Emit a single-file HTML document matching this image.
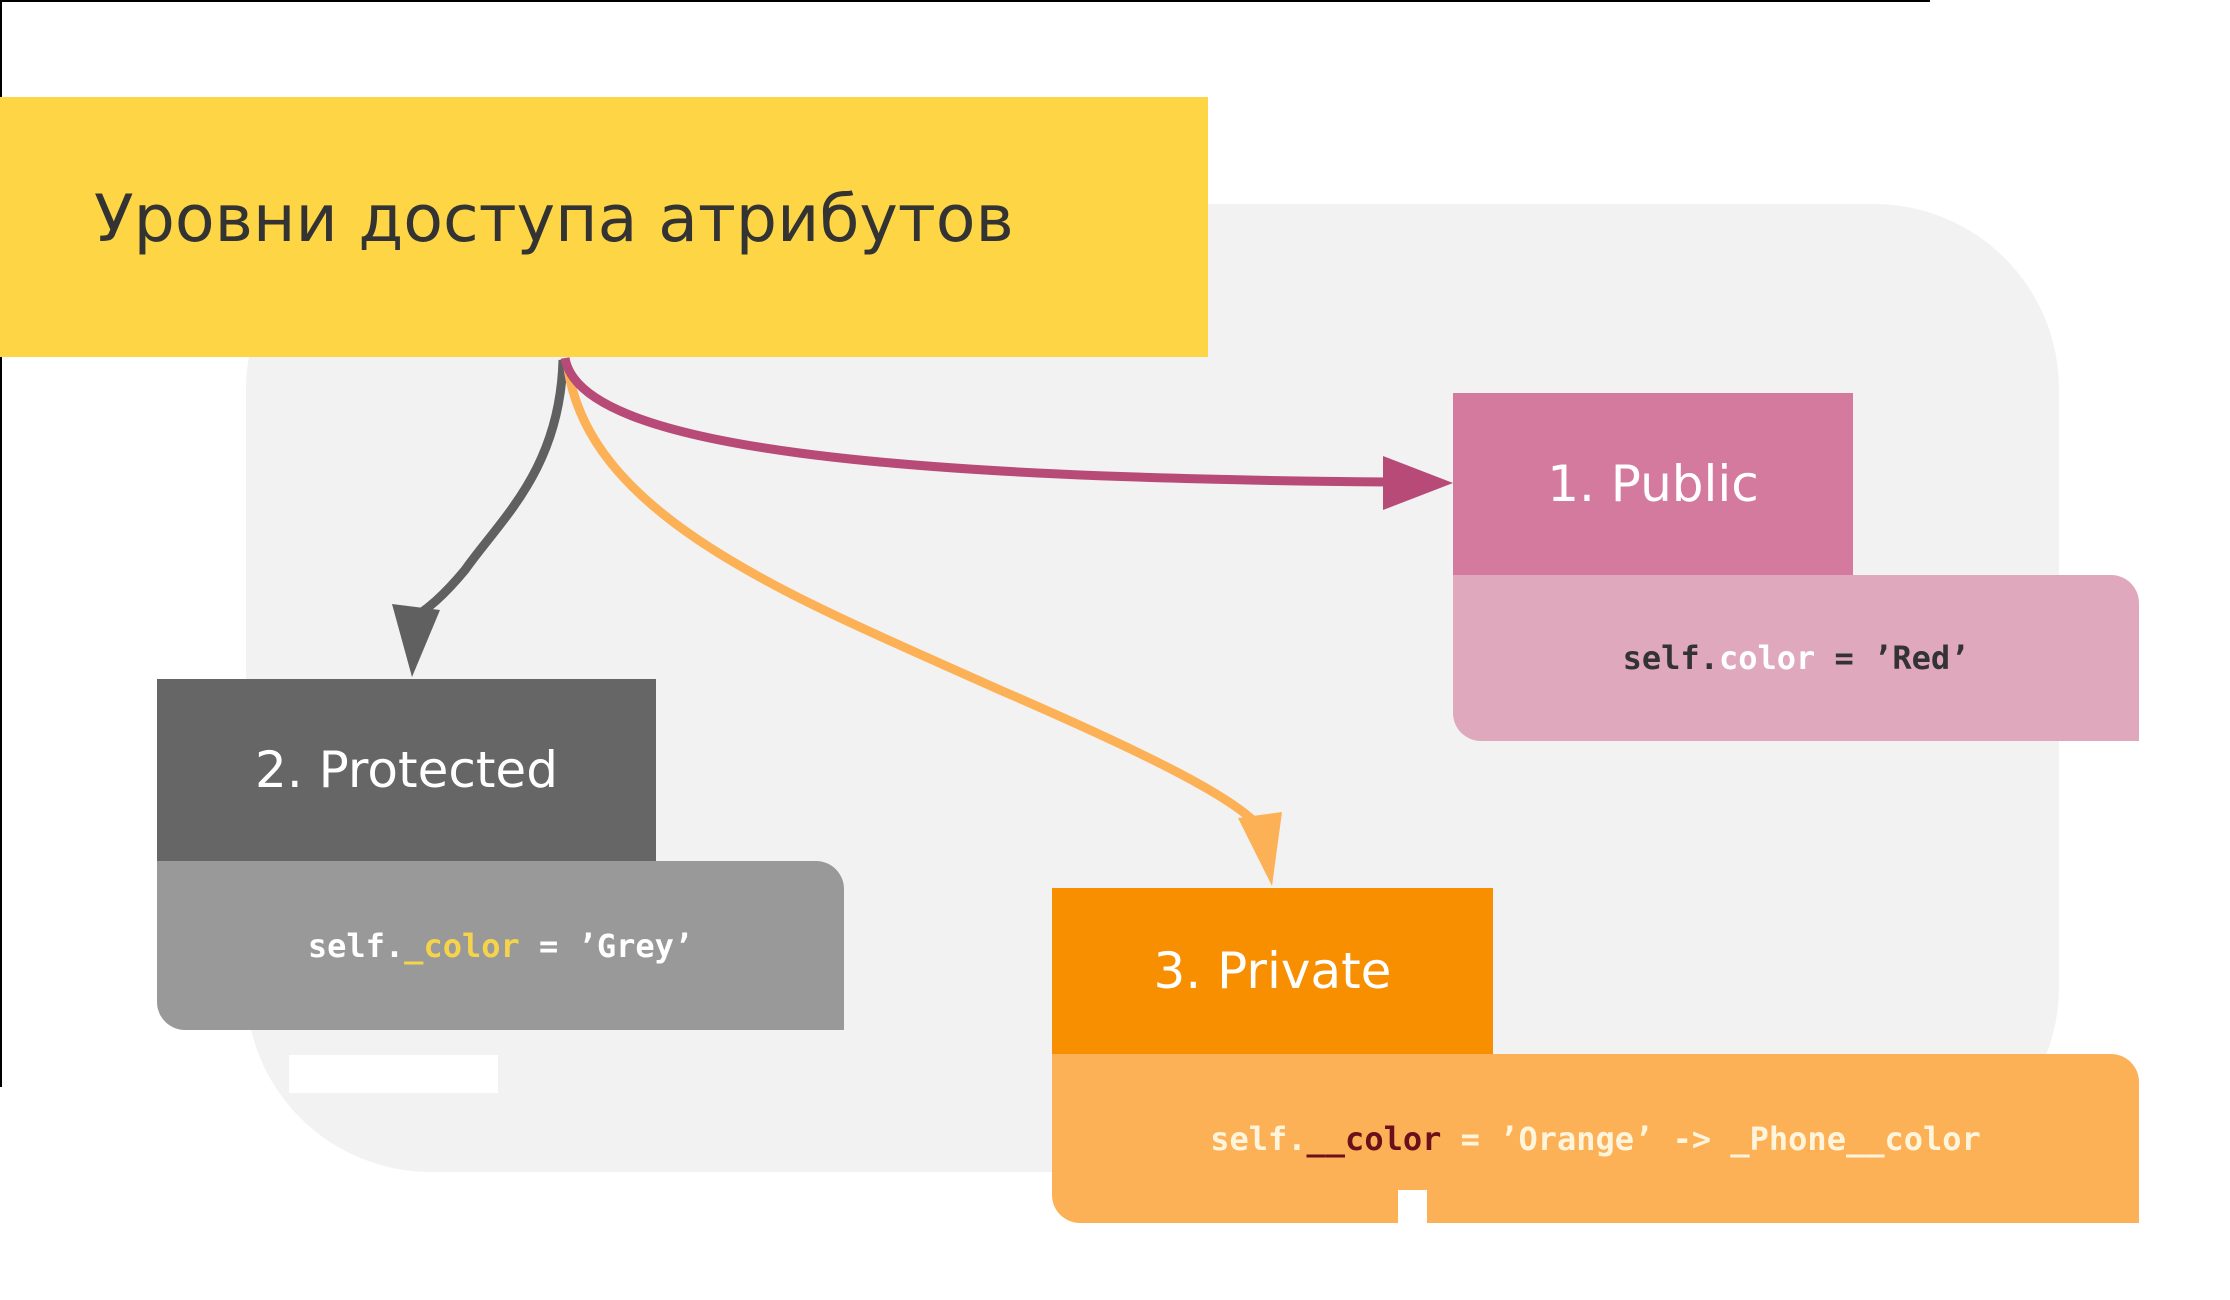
<!DOCTYPE html>
<html><head><meta charset="utf-8"><style>
body{margin:0;width:2230px;height:1300px;background:#fff;overflow:hidden;position:relative;font-family:"Liberation Sans","DejaVu Sans",sans-serif}
div{position:absolute;box-sizing:border-box}
.h{color:#fff;font-size:50px;display:flex;align-items:center;justify-content:center;font-family:"DejaVu Sans","Liberation Sans",sans-serif}
.c{font-family:"DejaVu Sans Mono","Liberation Mono",monospace;font-weight:bold;font-size:32px;display:flex;align-items:center;justify-content:center;white-space:pre}
</style></head><body>
<div style="left:0;top:0;width:1930px;height:2px;background:#000"></div>
<div style="left:0;top:0;width:2px;height:1087px;background:#000"></div>
<div style="left:246px;top:204px;width:1813px;height:968px;background:#f2f2f2;border-radius:185px"></div>
<div style="left:0;top:97px;width:1208px;height:260px;background:#fdd545"></div>
<div style="left:94px;top:182px;font-size:65px;color:#333;font-family:'DejaVu Sans','Liberation Sans',sans-serif;white-space:nowrap">Уровни доступа атрибутов</div>

<div style="left:1453px;top:575px;width:686px;height:166px;background:#e0a8bc;border-radius:0 28px 0 28px"></div>
<div class="h" style="left:1453px;top:393px;width:400px;height:182px;background:#d47a9e">1. Public</div>
<div class="c" style="left:1453px;top:575px;width:686px;height:166px;color:#333">self.<span style="color:#fff">color</span> = ’Red’</div>

<div style="left:157px;top:861px;width:687px;height:169px;background:#999;border-radius:0 28px 0 28px"></div>
<div class="h" style="left:157px;top:679px;width:499px;height:182px;background:#666">2. Protected</div>
<div class="c" style="left:157px;top:861px;width:687px;height:169px;color:#fff">self.<span style="color:#f5d34a">_color</span> = ’Grey’</div>
<div style="left:289px;top:1055px;width:209px;height:38px;background:#fff"></div>

<div style="left:1052px;top:1054px;width:1087px;height:169px;background:#fdb157;border-radius:0 28px 0 28px"></div>
<div class="h" style="left:1052px;top:888px;width:441px;height:166px;background:#f78f00">3. Private</div>
<div class="c" style="left:1052px;top:1054px;width:1087px;height:169px;color:#fff4dc">self.<span style="color:#6b0f1a">__color</span> = ’Orange’ -&gt; _Phone__color</div>
<div style="left:1398px;top:1190px;width:29px;height:33px;background:#fff"></div>

<svg width="2230" height="1300" style="position:absolute;left:0;top:0">
<path d="M563,360 C560,470 500,520 465,570 C440,600 425,610 418,615" fill="none" stroke="#606060" stroke-width="9"/>
<polygon points="392,604 440,610 412,677" fill="#606060"/>
<path d="M568,368 C590,520 800,600 1000,690 C1150,755 1240,800 1262,830" fill="none" stroke="#fdb157" stroke-width="9"/>
<polygon points="1238,818 1282,812 1272,886" fill="#fdb157"/>
<path d="M565,358 C580,450 900,478 1390,482" fill="none" stroke="#b84a78" stroke-width="9"/>
<polygon points="1383,456 1383,510 1453,483" fill="#b84a78"/>
</svg>
</body></html>
